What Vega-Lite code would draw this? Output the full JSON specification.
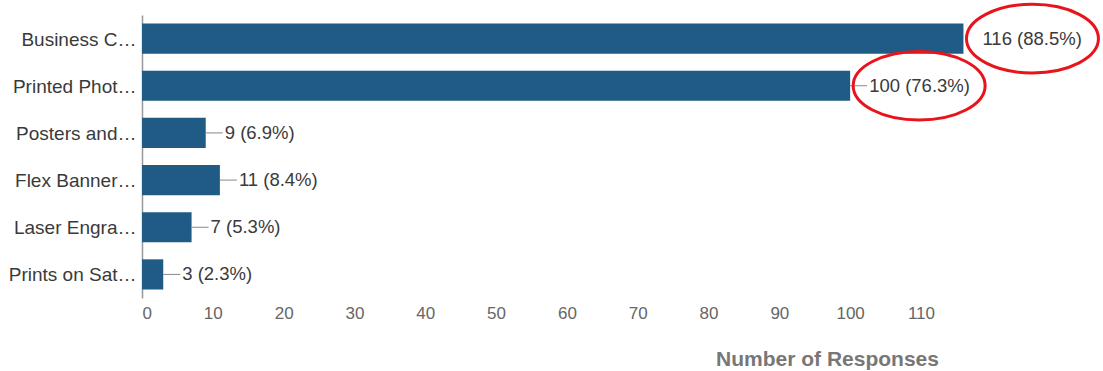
{
  "$schema": "https://vega.github.io/schema/vega-lite/v6.json",
  "autosize": {"type": "none"},
  "width": 956,
  "height": 283,
  "padding": {"left": 142, "top": 15, "right": 5, "bottom": 73},
  "background": "white",
  "config": {
    "view": {"stroke": null},
    "font": "Liberation Sans"
  },
  "data": {
    "values": [
      {"item": "Business C…", "count": 116, "pct": 88.5},
      {"item": "Printed Phot…", "count": 100, "pct": 76.3},
      {"item": "Posters and…", "count": 9, "pct": 6.9},
      {"item": "Flex Banner…", "count": 11, "pct": 8.4},
      {"item": "Laser Engra…", "count": 7, "pct": 5.3},
      {"item": "Prints on Sat…", "count": 3, "pct": 2.3}
    ]
  },
  "transform": [
    {"calculate": "datum.count + ' (' + format(datum.pct, '.1f') + '%)'", "as": "label"}
  ],
  "encoding": {
    "y": {
      "field": "item",
      "type": "nominal",
      "sort": null,
      "scale": {"paddingInner": 0.36, "paddingOuter": 0.18},
      "axis": {
        "title": null,
        "ticks": false,
        "domainColor": "#999999",
        "domainWidth": 1.5,
        "labelFontSize": 19,
        "labelColor": "#3a3a3a",
        "labelPadding": 6,
        "labelLimit": 200,
        "labelOffset": 1
      }
    }
  },
  "layer": [
    {
      "mark": {"type": "bar", "color": "#1f5b85"},
      "encoding": {
        "x": {
          "field": "count",
          "type": "quantitative",
          "scale": {"domain": [0, 135], "nice": false},
          "axis": {
            "values": [0, 10, 20, 30, 40, 50, 60, 70, 80, 90, 100, 110],
            "grid": false,
            "domain": false,
            "ticks": false,
            "labelFontSize": 17,
            "labelColor": "#666666",
            "labelPadding": 7,
            "title": "Number of Responses",
            "titleFontSize": 21,
            "titleFontWeight": "bold",
            "titleColor": "#777777",
            "titleX": 685,
            "titleY": 67,
            "titleAlign": "center",
            "titleBaseline": "alphabetic",
            "titleAnchor": null
          }
        }
      }
    },
    {
      "transform": [{"filter": "datum.count < 116"}],
      "mark": {"type": "rule", "color": "#888888", "strokeWidth": 1, "x2Offset": 17},
      "encoding": {
        "x": {"field": "count", "type": "quantitative"},
        "x2": {"field": "count"}
      }
    },
    {
      "mark": {"type": "text", "align": "left", "dx": 19, "fontSize": 18.5, "color": "#3a3a3a"},
      "encoding": {
        "x": {"field": "count", "type": "quantitative"},
        "text": {"field": "label"}
      }
    },
    {
      "transform": [{"filter": "datum.count >= 100"}],
      "mark": {
        "type": "point",
        "shape": "M-1,0 A1,0.52 0 1,1 1,0 A1,0.52 0 1,1 -1,0 Z",
        "size": 17424,
        "filled": false,
        "stroke": "#e8141b",
        "strokeWidth": 3,
        "opacity": 1,
        "xOffset": 69
      },
      "encoding": {
        "x": {"field": "count", "type": "quantitative"}
      }
    }
  ]
}
